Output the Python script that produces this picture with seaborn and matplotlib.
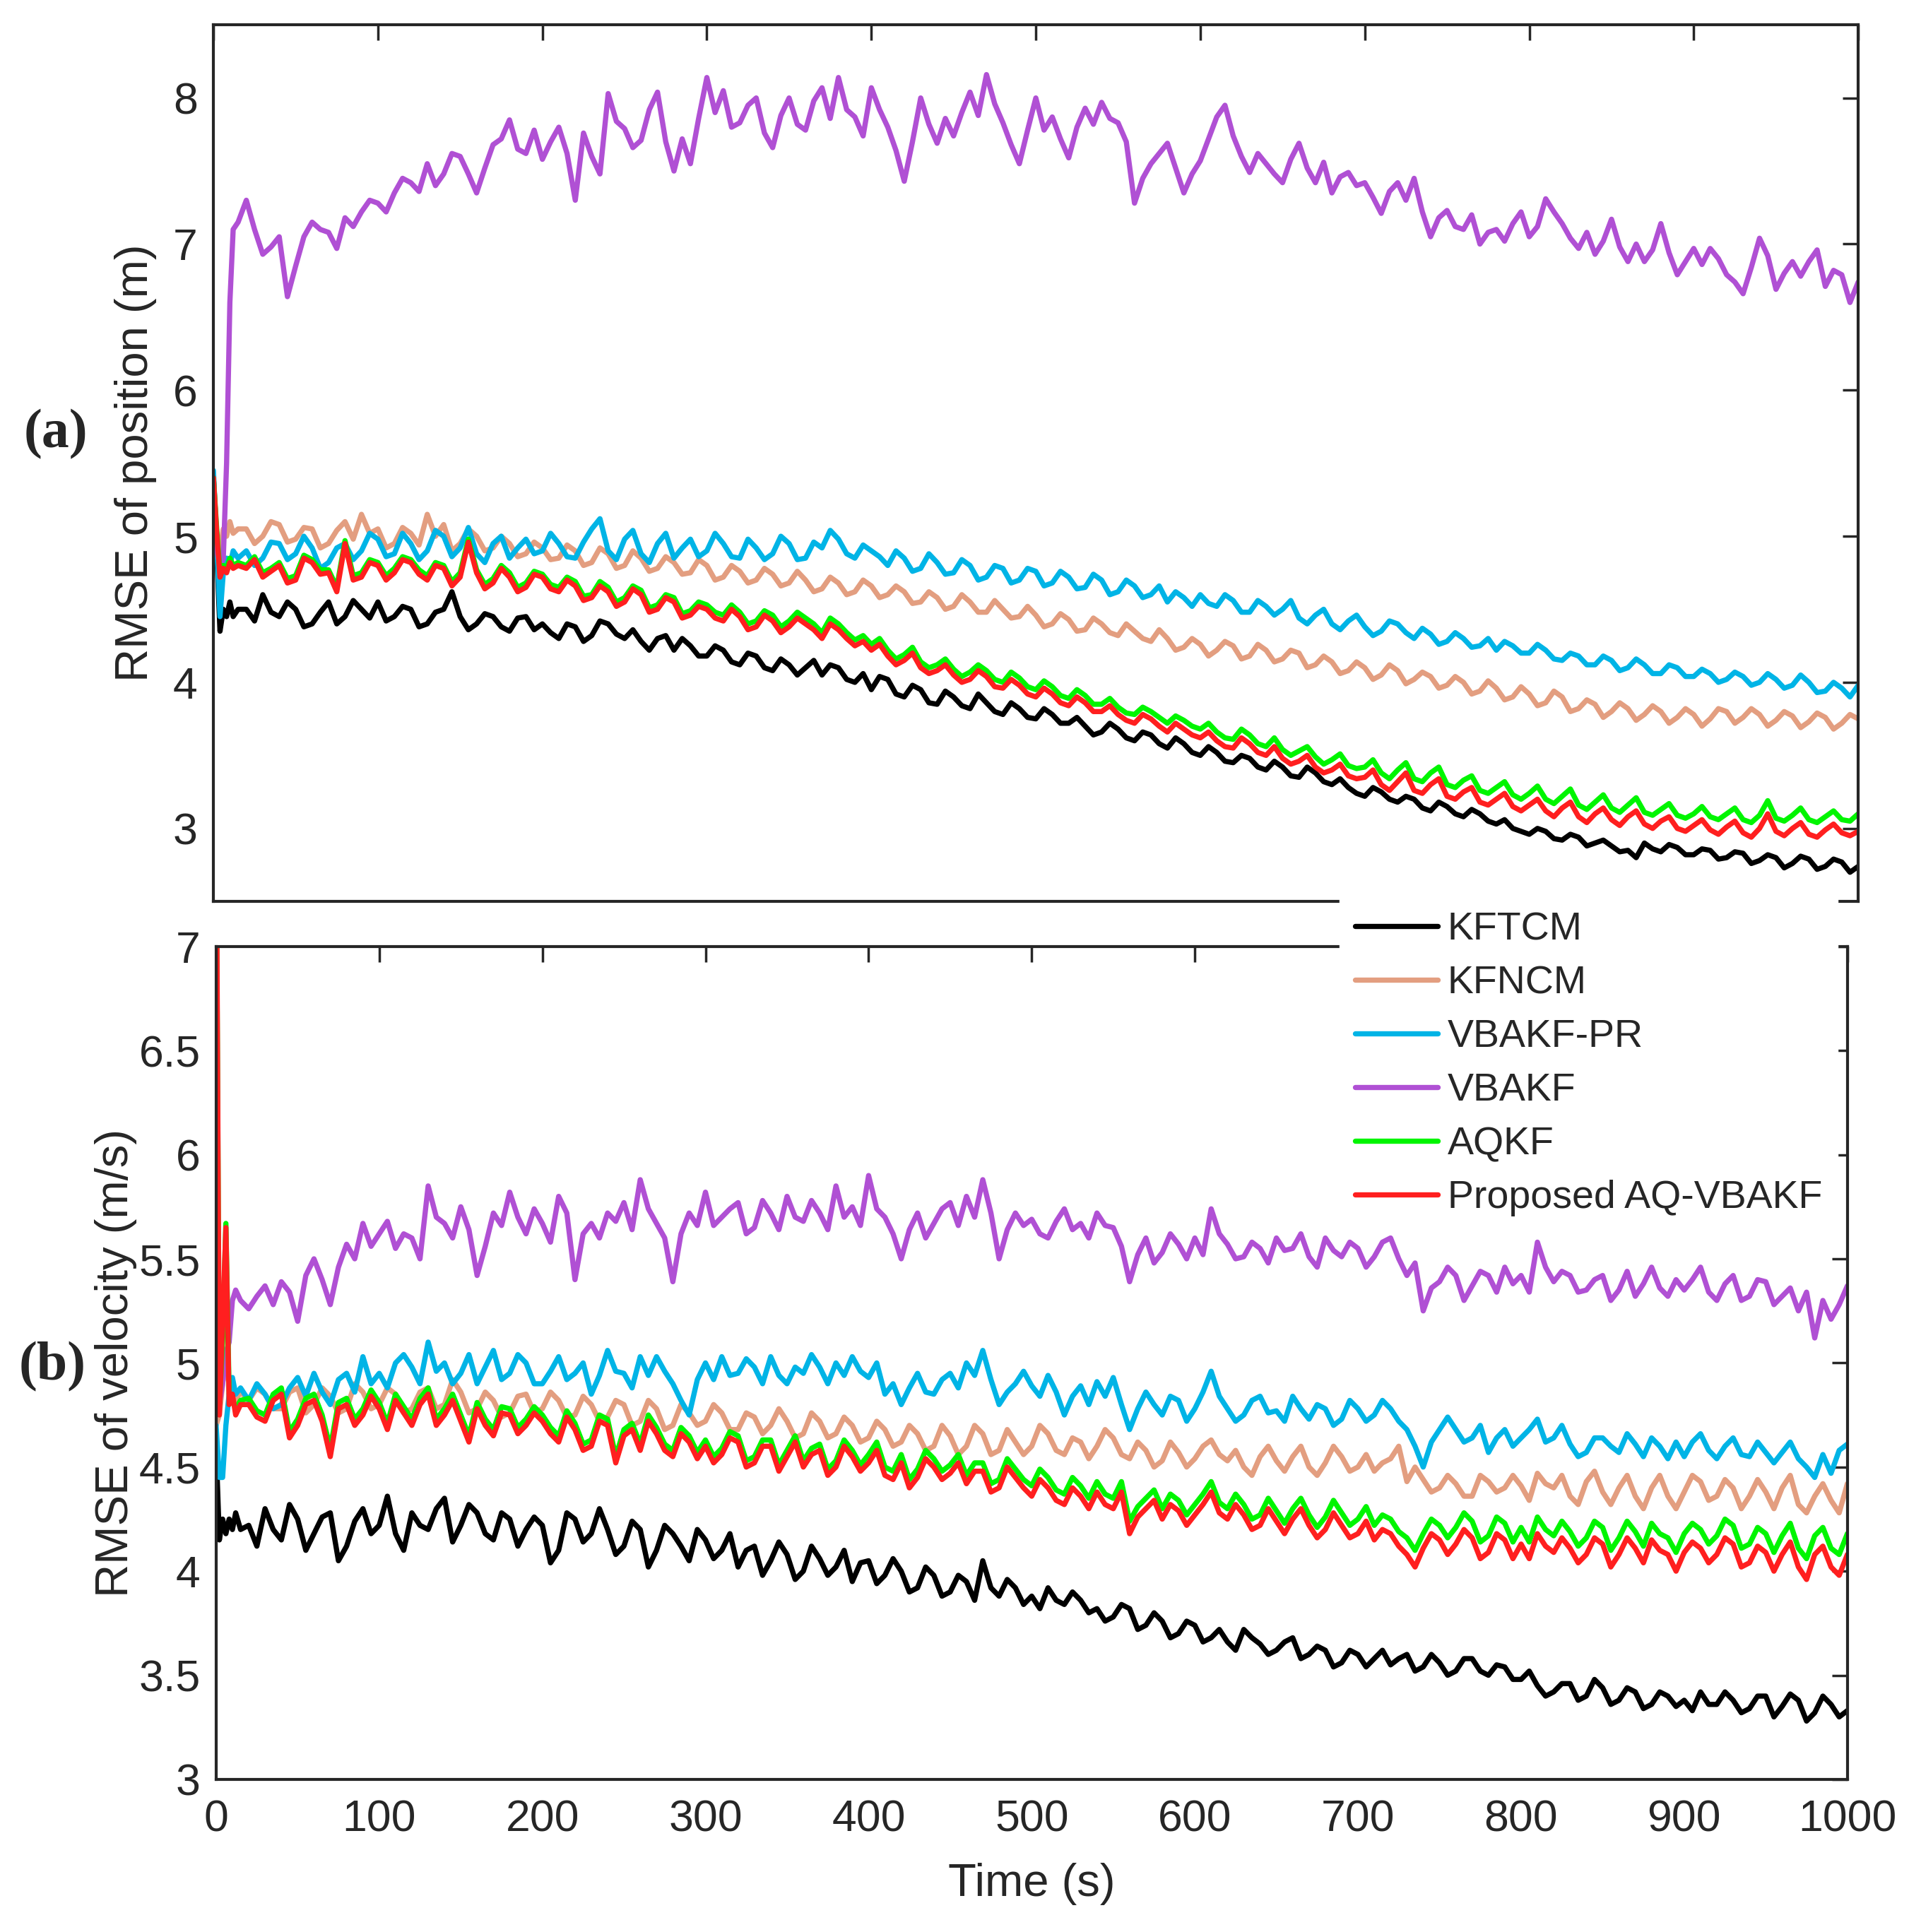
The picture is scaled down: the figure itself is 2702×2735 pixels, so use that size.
import matplotlib
matplotlib.use("Agg")
import matplotlib.pyplot as plt
from matplotlib.lines import Line2D
from matplotlib.ticker import FuncFormatter
import pandas as pd
import seaborn as sns

# ---------------- data ----------------
TIME = [0, 2, 4, 6, 8, 10, 12, 15] + list(range(20, 1001, 5))

METHODS = ["KFTCM", "KFNCM", "VBAKF-PR", "VBAKF", "AQKF", "Proposed AQ-VBAKF"]
COLORS = ["#000000", "#E39E80", "#00B4E6", "#B050D4", "#00F500", "#FF1F1F"]

# (a) RMSE of position (m)
POS_KFTCM = [5.40, 4.90, 4.35, 4.50, 4.45, 4.55, 4.45, 4.50,
    4.50, 4.42, 4.60, 4.48, 4.45, 4.55, 4.50, 4.38, 4.40, 4.48, 4.55, 4.40, 4.45, 4.56, 4.50, 4.44,
    4.55, 4.42, 4.45, 4.52, 4.50, 4.38, 4.40, 4.48, 4.50, 4.62, 4.45, 4.36, 4.40, 4.47, 4.45, 4.38, 4.35, 4.44, 4.45, 4.36,
    4.40, 4.34, 4.30, 4.40, 4.38, 4.28, 4.32, 4.42, 4.40, 4.33, 4.30, 4.36, 4.28, 4.22, 4.30, 4.32, 4.22, 4.30, 4.25, 4.18,
    4.18, 4.25, 4.22, 4.14, 4.12, 4.20, 4.18, 4.10, 4.08, 4.16, 4.12, 4.05, 4.10, 4.15, 4.05, 4.12, 4.10, 4.02, 4.00, 4.06,
    3.95, 4.04, 4.02, 3.92, 3.90, 3.98, 3.95, 3.86, 3.85, 3.94, 3.90, 3.84, 3.82, 3.92, 3.86, 3.80, 3.78, 3.86, 3.82, 3.76,
    3.75, 3.82, 3.78, 3.72, 3.72, 3.76, 3.70, 3.64, 3.66, 3.72, 3.68, 3.62, 3.60, 3.66, 3.64, 3.58, 3.55, 3.62, 3.58, 3.52,
    3.50, 3.56, 3.52, 3.46, 3.45, 3.50, 3.48, 3.42, 3.40, 3.46, 3.42, 3.36, 3.35, 3.42, 3.38, 3.32, 3.30, 3.34, 3.28, 3.24,
    3.22, 3.28, 3.25, 3.20, 3.18, 3.22, 3.20, 3.14, 3.12, 3.18, 3.15, 3.10, 3.08, 3.13, 3.10, 3.05, 3.03, 3.06, 3.00, 2.98,
    2.96, 3.00, 2.98, 2.93, 2.92, 2.96, 2.94, 2.88, 2.90, 2.92, 2.88, 2.84, 2.85, 2.80, 2.90, 2.86, 2.84, 2.89, 2.87, 2.82,
    2.82, 2.86, 2.85, 2.79, 2.80, 2.84, 2.83, 2.76, 2.78, 2.82, 2.80, 2.73, 2.76, 2.81, 2.79, 2.72, 2.74, 2.79, 2.77, 2.70,
    2.74]
POS_KFNCM = [5.40, 5.00, 4.90, 5.05, 5.00, 5.10, 5.02, 5.05,
    5.05, 4.95, 5.00, 5.10, 5.08, 4.96, 4.98, 5.06, 5.05, 4.92, 4.95, 5.04, 5.10, 4.98, 5.15, 5.02,
    5.05, 4.92, 4.95, 5.06, 5.02, 4.94, 5.15, 5.00, 5.08, 4.90, 4.95, 5.05, 5.00, 4.90, 4.92, 5.00, 4.95, 4.86, 4.88, 4.96,
    4.92, 4.84, 4.85, 4.94, 4.90, 4.80, 4.82, 4.92, 4.88, 4.78, 4.80, 4.90, 4.85, 4.76, 4.78, 4.86, 4.82, 4.74, 4.75, 4.84,
    4.80, 4.70, 4.72, 4.80, 4.76, 4.68, 4.70, 4.78, 4.74, 4.66, 4.68, 4.76, 4.70, 4.62, 4.64, 4.72, 4.68, 4.60, 4.62, 4.70,
    4.66, 4.58, 4.60, 4.66, 4.62, 4.54, 4.55, 4.62, 4.58, 4.50, 4.52, 4.60, 4.55, 4.48, 4.48, 4.56, 4.50, 4.44, 4.45, 4.52,
    4.46, 4.38, 4.40, 4.47, 4.43, 4.35, 4.36, 4.44, 4.40, 4.34, 4.32, 4.40, 4.35, 4.30, 4.28, 4.36, 4.30, 4.22, 4.24, 4.30,
    4.26, 4.18, 4.22, 4.28, 4.25, 4.16, 4.18, 4.26, 4.22, 4.14, 4.16, 4.22, 4.20, 4.10, 4.12, 4.18, 4.14, 4.06, 4.08, 4.14,
    4.10, 4.02, 4.05, 4.12, 4.08, 3.99, 4.02, 4.07, 4.04, 3.96, 3.98, 4.04, 4.00, 3.92, 3.94, 4.01, 3.96, 3.88, 3.90, 3.97,
    3.92, 3.84, 3.86, 3.94, 3.90, 3.80, 3.82, 3.88, 3.85, 3.76, 3.80, 3.86, 3.82, 3.74, 3.78, 3.84, 3.80, 3.72, 3.76, 3.82,
    3.78, 3.70, 3.75, 3.82, 3.80, 3.72, 3.76, 3.82, 3.78, 3.70, 3.74, 3.80, 3.77, 3.69, 3.73, 3.79, 3.76, 3.68, 3.72, 3.78,
    3.75]
POS_VBAKF_PR = [5.45, 4.95, 4.45, 4.75, 4.85, 4.80, 4.90, 4.85,
    4.90, 4.80, 4.85, 4.96, 4.95, 4.84, 4.88, 5.00, 4.92, 4.78, 4.82, 4.92, 4.95, 4.84, 4.90, 5.02,
    4.98, 4.86, 4.88, 5.02, 4.95, 4.84, 4.90, 5.04, 5.00, 4.86, 4.92, 5.06, 4.88, 4.82, 4.95, 5.00, 4.85, 4.92, 4.98, 4.88,
    4.90, 5.02, 4.95, 4.86, 4.85, 4.96, 5.05, 5.12, 4.90, 4.84, 4.98, 5.04, 4.88, 4.82, 4.95, 5.02, 4.85, 4.92, 4.98, 4.86,
    4.90, 5.02, 4.95, 4.86, 4.85, 4.98, 4.92, 4.84, 4.88, 5.00, 4.95, 4.84, 4.85, 4.96, 4.92, 5.04, 4.98, 4.88, 4.85, 4.94,
    4.90, 4.86, 4.80, 4.90, 4.85, 4.76, 4.78, 4.88, 4.82, 4.74, 4.75, 4.84, 4.80, 4.70, 4.72, 4.80, 4.78, 4.68, 4.70, 4.78,
    4.76, 4.66, 4.68, 4.76, 4.72, 4.64, 4.65, 4.74, 4.70, 4.60, 4.62, 4.70, 4.66, 4.58, 4.60, 4.66, 4.55, 4.62, 4.58, 4.52,
    4.60, 4.54, 4.52, 4.60, 4.56, 4.48, 4.48, 4.56, 4.52, 4.46, 4.50, 4.56, 4.44, 4.40, 4.46, 4.50, 4.40, 4.36, 4.42, 4.46,
    4.38, 4.32, 4.35, 4.42, 4.40, 4.34, 4.30, 4.37, 4.33, 4.26, 4.28, 4.34, 4.30, 4.24, 4.25, 4.30, 4.22, 4.28, 4.25, 4.20,
    4.20, 4.26, 4.22, 4.16, 4.15, 4.20, 4.18, 4.12, 4.12, 4.18, 4.15, 4.08, 4.10, 4.16, 4.12, 4.06, 4.06, 4.12, 4.10, 4.04,
    4.04, 4.09, 4.06, 4.00, 4.02, 4.07, 4.04, 3.98, 4.00, 4.06, 4.02, 3.96, 3.98, 4.05, 4.00, 3.93, 3.94, 4.00, 3.96, 3.90,
    3.98]
POS_VBAKF = [5.30, 4.90, 4.80, 4.85, 5.50, 6.60, 7.10, 7.15,
    7.30, 7.10, 6.93, 6.98, 7.05, 6.64, 6.85, 7.05, 7.15, 7.10, 7.08, 6.97, 7.18, 7.12, 7.22, 7.30,
    7.28, 7.22, 7.35, 7.45, 7.42, 7.36, 7.55, 7.40, 7.48, 7.62, 7.60, 7.48, 7.35, 7.52, 7.68, 7.72, 7.85, 7.65, 7.62, 7.78,
    7.58, 7.70, 7.80, 7.62, 7.30, 7.76, 7.60, 7.48, 8.03, 7.84, 7.79, 7.66, 7.71, 7.92, 8.04, 7.70, 7.50, 7.72, 7.55, 7.86,
    8.14, 7.90, 8.05, 7.80, 7.83, 7.95, 8.00, 7.76, 7.66, 7.88, 8.00, 7.82, 7.78, 7.98, 8.07, 7.86, 8.14, 7.92, 7.87, 7.74,
    8.07, 7.92, 7.80, 7.64, 7.43, 7.70, 8.00, 7.82, 7.69, 7.86, 7.74, 7.90, 8.04, 7.88, 8.16, 7.96, 7.83, 7.68, 7.55, 7.78,
    8.00, 7.78, 7.87, 7.72, 7.59, 7.80, 7.93, 7.82, 7.97, 7.86, 7.83, 7.70, 7.28, 7.45, 7.55, 7.62, 7.69, 7.52, 7.35, 7.48,
    7.57, 7.72, 7.87, 7.95, 7.74, 7.60, 7.49, 7.62, 7.55, 7.48, 7.42, 7.58, 7.69, 7.52, 7.42, 7.56, 7.35, 7.46, 7.49, 7.40,
    7.42, 7.32, 7.21, 7.36, 7.42, 7.30, 7.45, 7.22, 7.05, 7.18, 7.23, 7.12, 7.10, 7.20, 7.00, 7.08, 7.10, 7.02, 7.14, 7.22,
    7.05, 7.12, 7.31, 7.22, 7.14, 7.04, 6.97, 7.08, 6.93, 7.02, 7.17, 6.98, 6.88, 7.00, 6.88, 6.96, 7.14, 6.94, 6.79, 6.88,
    6.97, 6.86, 6.97, 6.90, 6.79, 6.74, 6.66, 6.84, 7.04, 6.92, 6.69, 6.80, 6.88, 6.78, 6.88, 6.96, 6.71, 6.82, 6.79, 6.60,
    6.74]
POS_AQKF = [5.40, 5.05, 4.75, 4.80, 4.78, 4.85, 4.80, 4.82,
    4.80, 4.86, 4.75, 4.78, 4.82, 4.71, 4.73, 4.87, 4.84, 4.77, 4.77, 4.65, 4.97, 4.73, 4.75, 4.84,
    4.82, 4.73, 4.78, 4.86, 4.84, 4.77, 4.73, 4.82, 4.80, 4.69, 4.75, 4.98, 4.77, 4.67, 4.71, 4.80, 4.75, 4.65, 4.68, 4.76,
    4.74, 4.67, 4.65, 4.72, 4.69, 4.59, 4.60, 4.69, 4.65, 4.55, 4.58, 4.66, 4.63, 4.51, 4.53, 4.60, 4.58, 4.47, 4.49, 4.55,
    4.53, 4.48, 4.46, 4.53, 4.48, 4.40, 4.42, 4.49, 4.46, 4.38, 4.42, 4.48, 4.44, 4.40, 4.34, 4.44, 4.40, 4.34, 4.29, 4.32,
    4.26, 4.30, 4.22, 4.16, 4.19, 4.24, 4.14, 4.10, 4.12, 4.16, 4.09, 4.04, 4.07, 4.12, 4.08, 4.02, 4.00, 4.07, 4.03, 3.97,
    3.95, 4.01, 3.97, 3.91, 3.89, 3.95, 3.91, 3.85, 3.85, 3.89, 3.83, 3.79, 3.78, 3.83, 3.80, 3.76, 3.72, 3.77, 3.74, 3.70,
    3.68, 3.72, 3.66, 3.62, 3.61, 3.68, 3.64, 3.58, 3.56, 3.62, 3.54, 3.50, 3.53, 3.56, 3.49, 3.44, 3.47, 3.51, 3.43, 3.41,
    3.42, 3.47, 3.38, 3.34, 3.40, 3.45, 3.34, 3.32, 3.38, 3.42, 3.30, 3.28, 3.33, 3.36, 3.26, 3.24, 3.28, 3.32, 3.23, 3.20,
    3.24, 3.29, 3.20, 3.17, 3.22, 3.27, 3.16, 3.13, 3.18, 3.23, 3.14, 3.11, 3.16, 3.21, 3.11, 3.09, 3.13, 3.17, 3.09, 3.07,
    3.10, 3.15, 3.08, 3.06, 3.10, 3.14, 3.06, 3.04, 3.09, 3.19, 3.07, 3.05, 3.09, 3.14, 3.06, 3.04, 3.08, 3.12, 3.06, 3.05,
    3.10]
POS_PROPOSED = [5.40, 5.02, 4.72, 4.78, 4.75, 4.82, 4.78, 4.80,
    4.78, 4.84, 4.72, 4.76, 4.80, 4.68, 4.70, 4.85, 4.82, 4.74, 4.75, 4.62, 4.95, 4.70, 4.72, 4.82,
    4.80, 4.70, 4.75, 4.84, 4.82, 4.74, 4.70, 4.80, 4.78, 4.66, 4.72, 4.96, 4.75, 4.64, 4.68, 4.78, 4.72, 4.62, 4.65, 4.74,
    4.72, 4.64, 4.62, 4.70, 4.66, 4.56, 4.58, 4.66, 4.62, 4.52, 4.55, 4.64, 4.60, 4.48, 4.50, 4.58, 4.55, 4.44, 4.46, 4.52,
    4.50, 4.44, 4.42, 4.50, 4.45, 4.36, 4.38, 4.46, 4.42, 4.34, 4.38, 4.44, 4.40, 4.36, 4.30, 4.40, 4.36, 4.30, 4.25, 4.28,
    4.22, 4.26, 4.18, 4.12, 4.15, 4.20, 4.10, 4.06, 4.08, 4.12, 4.05, 4.00, 4.02, 4.08, 4.04, 3.97, 3.96, 4.02, 3.98, 3.92,
    3.90, 3.96, 3.92, 3.86, 3.84, 3.90, 3.86, 3.80, 3.80, 3.84, 3.78, 3.74, 3.72, 3.78, 3.75, 3.70, 3.66, 3.72, 3.68, 3.64,
    3.62, 3.66, 3.60, 3.56, 3.55, 3.62, 3.58, 3.52, 3.50, 3.56, 3.48, 3.44, 3.46, 3.50, 3.42, 3.38, 3.40, 3.44, 3.36, 3.34,
    3.35, 3.40, 3.30, 3.26, 3.32, 3.38, 3.26, 3.24, 3.30, 3.34, 3.22, 3.20, 3.25, 3.28, 3.18, 3.16, 3.20, 3.24, 3.15, 3.12,
    3.16, 3.20, 3.12, 3.08, 3.14, 3.18, 3.08, 3.04, 3.10, 3.14, 3.06, 3.02, 3.08, 3.12, 3.03, 3.00, 3.05, 3.08, 3.00, 2.98,
    3.02, 3.06, 2.99, 2.96, 3.01, 3.05, 2.97, 2.94, 3.00, 3.10, 2.98, 2.95, 3.00, 3.04, 2.96, 2.94, 2.99, 3.03, 2.97, 2.95,
    2.98]

# (b) RMSE of velocity (m/s)
VEL_KFTCM = [4.60, 4.15, 4.25, 4.18, 4.25, 4.20, 4.28, 4.20,
    4.22, 4.12, 4.30, 4.20, 4.15, 4.32, 4.25, 4.10, 4.18, 4.26, 4.28, 4.05, 4.12, 4.24, 4.30, 4.18,
    4.22, 4.36, 4.18, 4.10, 4.28, 4.22, 4.20, 4.30, 4.35, 4.14, 4.22, 4.32, 4.28, 4.18, 4.15, 4.28, 4.25, 4.12, 4.20, 4.26,
    4.22, 4.04, 4.10, 4.28, 4.25, 4.14, 4.18, 4.30, 4.20, 4.08, 4.12, 4.24, 4.20, 4.02, 4.10, 4.22, 4.18, 4.12, 4.05, 4.20,
    4.15, 4.06, 4.10, 4.18, 4.02, 4.10, 4.12, 3.98, 4.05, 4.14, 4.08, 3.96, 4.00, 4.12, 4.06, 3.98, 4.02, 4.10, 3.95, 4.04,
    4.05, 3.94, 3.98, 4.06, 4.00, 3.90, 3.92, 4.02, 3.98, 3.88, 3.90, 3.98, 3.95, 3.86, 4.05, 3.92, 3.88, 3.96, 3.92, 3.84,
    3.88, 3.82, 3.92, 3.86, 3.84, 3.90, 3.86, 3.80, 3.82, 3.76, 3.78, 3.84, 3.82, 3.72, 3.74, 3.80, 3.76, 3.68, 3.70, 3.76,
    3.74, 3.66, 3.68, 3.72, 3.66, 3.62, 3.72, 3.68, 3.65, 3.60, 3.62, 3.66, 3.68, 3.58, 3.60, 3.64, 3.62, 3.54, 3.56, 3.62,
    3.60, 3.54, 3.58, 3.62, 3.55, 3.58, 3.60, 3.52, 3.54, 3.60, 3.56, 3.50, 3.52, 3.58, 3.58, 3.52, 3.50, 3.55, 3.54, 3.48,
    3.48, 3.52, 3.45, 3.40, 3.42, 3.46, 3.46, 3.38, 3.40, 3.48, 3.44, 3.36, 3.38, 3.44, 3.42, 3.34, 3.36, 3.42, 3.40, 3.35,
    3.38, 3.33, 3.42, 3.36, 3.36, 3.42, 3.38, 3.32, 3.34, 3.40, 3.40, 3.30, 3.35, 3.41, 3.38, 3.28, 3.32, 3.40, 3.36, 3.30,
    3.33]
VEL_KFNCM = [4.70, 4.75, 4.90, 5.00, 4.90, 4.85, 4.82, 4.86,
    4.82, 4.88, 4.85, 4.78, 4.78, 4.86, 4.88, 4.76, 4.80, 4.88, 4.84, 4.76, 4.78, 4.90, 4.86, 4.78,
    4.80, 4.88, 4.85, 4.76, 4.78, 4.86, 4.88, 4.78, 4.80, 4.92, 4.86, 4.76, 4.78, 4.86, 4.82, 4.74, 4.76, 4.84, 4.85, 4.76,
    4.78, 4.86, 4.82, 4.74, 4.75, 4.84, 4.80, 4.72, 4.74, 4.82, 4.80, 4.70, 4.72, 4.82, 4.78, 4.68, 4.70, 4.80, 4.76, 4.70,
    4.72, 4.80, 4.76, 4.68, 4.68, 4.76, 4.74, 4.66, 4.70, 4.78, 4.72, 4.64, 4.66, 4.76, 4.72, 4.64, 4.66, 4.74, 4.70, 4.62,
    4.64, 4.72, 4.68, 4.60, 4.62, 4.70, 4.66, 4.58, 4.60, 4.70, 4.65, 4.56, 4.60, 4.70, 4.66, 4.56, 4.58, 4.68, 4.62, 4.56,
    4.60, 4.70, 4.66, 4.58, 4.56, 4.64, 4.62, 4.54, 4.60, 4.68, 4.64, 4.56, 4.54, 4.62, 4.58, 4.50, 4.53, 4.62, 4.57, 4.50,
    4.54, 4.60, 4.63, 4.56, 4.53, 4.58, 4.50, 4.46, 4.55, 4.60, 4.53, 4.48, 4.55, 4.60, 4.50, 4.46, 4.52, 4.60, 4.55, 4.48,
    4.50, 4.56, 4.48, 4.52, 4.54, 4.60, 4.43, 4.50, 4.44, 4.38, 4.40, 4.46, 4.42, 4.36, 4.36, 4.46, 4.43, 4.38, 4.40, 4.46,
    4.41, 4.34, 4.47, 4.42, 4.40, 4.46, 4.36, 4.32, 4.43, 4.48, 4.38, 4.32, 4.40, 4.46, 4.36, 4.30, 4.40, 4.46, 4.36, 4.30,
    4.38, 4.46, 4.43, 4.34, 4.36, 4.44, 4.40, 4.30, 4.36, 4.44, 4.38, 4.30, 4.40, 4.46, 4.32, 4.28, 4.36, 4.42, 4.34, 4.28,
    4.42]
VEL_VBAKF_PR = [4.70, 4.45, 4.45, 4.70, 4.85, 4.93, 4.85, 4.88,
    4.82, 4.90, 4.85, 4.78, 4.80, 4.88, 4.93, 4.84, 4.95, 4.86, 4.80, 4.92, 4.95, 4.86, 5.03, 4.90,
    4.95, 4.88, 5.00, 5.04, 4.98, 4.90, 5.10, 4.96, 5.00, 4.90, 4.95, 5.04, 4.90, 4.98, 5.06, 4.92, 4.95, 5.04, 5.00, 4.90,
    4.90, 4.96, 5.03, 4.92, 4.95, 5.00, 4.85, 4.94, 5.06, 4.96, 4.95, 4.88, 5.03, 4.94, 5.03, 4.96, 4.90, 4.82, 4.75, 4.92,
    5.00, 4.92, 5.03, 4.94, 4.95, 5.02, 4.98, 4.90, 5.03, 4.94, 4.90, 4.98, 4.95, 5.04, 4.98, 4.90, 5.00, 4.94, 5.03, 4.96,
    4.93, 5.00, 4.85, 4.90, 4.80, 4.88, 4.95, 4.86, 4.85, 4.92, 4.95, 4.88, 5.00, 4.94, 5.06, 4.92, 4.80, 4.86, 4.90, 4.96,
    4.89, 4.84, 4.94, 4.86, 4.75, 4.84, 4.89, 4.80, 4.91, 4.84, 4.93, 4.80, 4.68, 4.78, 4.86, 4.80, 4.75, 4.84, 4.82, 4.72,
    4.78, 4.86, 4.96, 4.84, 4.78, 4.72, 4.75, 4.82, 4.84, 4.76, 4.77, 4.72, 4.84, 4.78, 4.73, 4.80, 4.78, 4.70, 4.73, 4.82,
    4.78, 4.72, 4.75, 4.82, 4.78, 4.72, 4.68, 4.60, 4.50, 4.62, 4.68, 4.74, 4.68, 4.62, 4.64, 4.70, 4.57, 4.64, 4.68, 4.60,
    4.64, 4.68, 4.73, 4.62, 4.64, 4.70, 4.61, 4.55, 4.57, 4.64, 4.64, 4.60, 4.57, 4.66, 4.61, 4.55, 4.64, 4.60, 4.54, 4.62,
    4.55, 4.62, 4.66, 4.58, 4.54, 4.60, 4.64, 4.56, 4.55, 4.62, 4.57, 4.52, 4.57, 4.62, 4.54, 4.50, 4.45, 4.56, 4.47, 4.58,
    4.61]
VEL_VBAKF = [4.75, 4.80, 4.90, 5.05, 5.10, 5.30, 5.35, 5.30,
    5.26, 5.32, 5.37, 5.28, 5.39, 5.34, 5.20, 5.42, 5.50, 5.40, 5.28, 5.46, 5.57, 5.50, 5.67, 5.56,
    5.62, 5.68, 5.55, 5.62, 5.60, 5.50, 5.85, 5.70, 5.67, 5.60, 5.75, 5.64, 5.42, 5.56, 5.72, 5.66, 5.82, 5.70, 5.62, 5.74,
    5.67, 5.58, 5.80, 5.72, 5.40, 5.62, 5.67, 5.60, 5.72, 5.68, 5.77, 5.64, 5.88, 5.74, 5.67, 5.60, 5.39, 5.62, 5.72, 5.66,
    5.82, 5.66, 5.70, 5.74, 5.77, 5.62, 5.65, 5.78, 5.72, 5.64, 5.80, 5.70, 5.68, 5.78, 5.72, 5.64, 5.85, 5.70, 5.75, 5.66,
    5.90, 5.74, 5.70, 5.62, 5.50, 5.64, 5.72, 5.60, 5.67, 5.74, 5.77, 5.66, 5.80, 5.70, 5.88, 5.72, 5.50, 5.64, 5.72, 5.66,
    5.69, 5.62, 5.60, 5.68, 5.74, 5.64, 5.67, 5.60, 5.72, 5.66, 5.65, 5.56, 5.39, 5.52, 5.60, 5.48, 5.53, 5.62, 5.57, 5.50,
    5.60, 5.52, 5.74, 5.62, 5.57, 5.50, 5.51, 5.58, 5.55, 5.48, 5.60, 5.54, 5.55, 5.62, 5.51, 5.46, 5.60, 5.54, 5.51, 5.58,
    5.55, 5.46, 5.51, 5.58, 5.60, 5.50, 5.42, 5.48, 5.25, 5.36, 5.39, 5.46, 5.42, 5.30, 5.37, 5.44, 5.42, 5.34, 5.46, 5.38,
    5.42, 5.34, 5.58, 5.46, 5.39, 5.44, 5.42, 5.34, 5.35, 5.40, 5.42, 5.30, 5.35, 5.44, 5.32, 5.38, 5.46, 5.36, 5.32, 5.40,
    5.35, 5.40, 5.46, 5.34, 5.30, 5.38, 5.42, 5.30, 5.32, 5.40, 5.39, 5.28, 5.32, 5.36, 5.25, 5.34, 5.12, 5.30, 5.21, 5.28,
    5.37]
VEL_AQKF = [7.60, 4.80, 5.10, 5.67, 4.85, 4.82, 4.78, 4.82,
    4.83, 4.77, 4.75, 4.85, 4.88, 4.67, 4.73, 4.83, 4.85, 4.75, 4.59, 4.81, 4.83, 4.73, 4.78, 4.87,
    4.81, 4.71, 4.85, 4.79, 4.73, 4.83, 4.88, 4.73, 4.78, 4.85, 4.75, 4.65, 4.81, 4.73, 4.68, 4.79, 4.78, 4.69, 4.73, 4.79,
    4.75, 4.69, 4.65, 4.77, 4.71, 4.61, 4.63, 4.75, 4.73, 4.55, 4.68, 4.71, 4.61, 4.75, 4.69, 4.61, 4.58, 4.69, 4.65, 4.57,
    4.63, 4.55, 4.59, 4.67, 4.65, 4.53, 4.55, 4.63, 4.63, 4.51, 4.58, 4.65, 4.53, 4.59, 4.61, 4.49, 4.53, 4.63, 4.58, 4.51,
    4.56, 4.62, 4.50, 4.48, 4.56, 4.44, 4.49, 4.58, 4.54, 4.48, 4.51, 4.56, 4.46, 4.52, 4.52, 4.42, 4.44, 4.54, 4.49, 4.44,
    4.41, 4.49, 4.45, 4.39, 4.37, 4.45, 4.41, 4.35, 4.43, 4.37, 4.35, 4.43, 4.24, 4.31, 4.35, 4.39, 4.30, 4.37, 4.34, 4.27,
    4.32, 4.37, 4.43, 4.33, 4.30, 4.37, 4.32, 4.25, 4.27, 4.35, 4.29, 4.23, 4.30, 4.35, 4.27, 4.21, 4.26, 4.34, 4.28, 4.22,
    4.25, 4.31, 4.22, 4.27, 4.25, 4.19, 4.16, 4.10, 4.18, 4.25, 4.22, 4.16, 4.21, 4.28, 4.24, 4.14, 4.17, 4.26, 4.23, 4.14,
    4.21, 4.14, 4.26, 4.20, 4.17, 4.24, 4.19, 4.12, 4.16, 4.24, 4.21, 4.10, 4.16, 4.24, 4.19, 4.12, 4.23, 4.18, 4.16, 4.09,
    4.18, 4.23, 4.20, 4.13, 4.17, 4.25, 4.22, 4.11, 4.13, 4.21, 4.18, 4.09, 4.17, 4.23, 4.11, 4.06, 4.17, 4.21, 4.11, 4.08,
    4.18]
VEL_PROPOSED = [7.80, 4.75, 5.20, 5.65, 4.80, 4.85, 4.75, 4.80,
    4.80, 4.74, 4.72, 4.82, 4.85, 4.64, 4.70, 4.80, 4.82, 4.72, 4.55, 4.78, 4.80, 4.70, 4.75, 4.84,
    4.78, 4.68, 4.82, 4.76, 4.70, 4.80, 4.85, 4.70, 4.75, 4.82, 4.72, 4.62, 4.78, 4.70, 4.65, 4.76, 4.75, 4.66, 4.70, 4.76,
    4.72, 4.66, 4.62, 4.74, 4.68, 4.58, 4.60, 4.72, 4.70, 4.52, 4.65, 4.68, 4.58, 4.72, 4.66, 4.58, 4.55, 4.66, 4.62, 4.54,
    4.60, 4.52, 4.56, 4.64, 4.62, 4.50, 4.52, 4.60, 4.60, 4.48, 4.55, 4.62, 4.50, 4.56, 4.58, 4.46, 4.50, 4.60, 4.55, 4.48,
    4.52, 4.58, 4.46, 4.44, 4.52, 4.40, 4.45, 4.54, 4.50, 4.44, 4.47, 4.52, 4.42, 4.48, 4.48, 4.38, 4.40, 4.50, 4.45, 4.40,
    4.36, 4.44, 4.40, 4.34, 4.32, 4.40, 4.36, 4.30, 4.38, 4.32, 4.30, 4.38, 4.18, 4.26, 4.30, 4.34, 4.25, 4.32, 4.29, 4.22,
    4.27, 4.32, 4.38, 4.28, 4.25, 4.32, 4.27, 4.20, 4.22, 4.30, 4.24, 4.18, 4.25, 4.30, 4.22, 4.16, 4.20, 4.28, 4.22, 4.16,
    4.18, 4.24, 4.15, 4.20, 4.18, 4.12, 4.08, 4.02, 4.11, 4.18, 4.15, 4.08, 4.13, 4.20, 4.16, 4.06, 4.09, 4.18, 4.15, 4.06,
    4.13, 4.06, 4.18, 4.12, 4.09, 4.16, 4.11, 4.04, 4.08, 4.16, 4.13, 4.02, 4.08, 4.16, 4.11, 4.04, 4.15, 4.10, 4.08, 4.00,
    4.09, 4.14, 4.11, 4.04, 4.08, 4.16, 4.13, 4.02, 4.04, 4.12, 4.09, 4.00, 4.08, 4.14, 4.02, 3.96, 4.08, 4.12, 4.02, 3.98,
    4.08]

POSITION = [POS_KFTCM, POS_KFNCM, POS_VBAKF_PR, POS_VBAKF, POS_AQKF, POS_PROPOSED]
VELOCITY = [VEL_KFTCM, VEL_KFNCM, VEL_VBAKF_PR, VEL_VBAKF, VEL_AQKF, VEL_PROPOSED]

X_TICKS = list(range(0, 1001, 100))
POS_TICKS = [3, 4, 5, 6, 7, 8]
VEL_TICKS = [3, 3.5, 4, 4.5, 5, 5.5, 6, 6.5, 7]

for group in (POSITION, VELOCITY):
    for name, vals in zip(METHODS, group):
        if len(vals) != len(TIME):
            raise ValueError(f"{name}: {len(vals)} values vs {len(TIME)} times")


def long_frame(series_list):
    frames = []
    for name, vals in zip(METHODS, series_list):
        frames.append(pd.DataFrame({"Time": TIME, "RMSE": vals, "Method": name}))
    return pd.concat(frames, ignore_index=True)


# ---------------- style ----------------
sns.set_style("white")
plt.rcParams["font.family"] = ["Liberation Sans", "DejaVu Sans"]
AX_COLOR = "#262626"
LW = 5.3

fig = plt.figure(figsize=(27.02, 27.35), dpi=100)
ax1 = fig.add_axes([0.1118, 0.5334, 0.8616, 0.4537])
ax2 = fig.add_axes([0.1132, 0.0790, 0.8545, 0.4311])

palette = dict(zip(METHODS, COLORS))

for ax, series in [(ax1, POSITION), (ax2, VELOCITY)]:
    df = long_frame(series)
    sns.lineplot(data=df, x="Time", y="RMSE", hue="Method", hue_order=METHODS,
                 palette=palette, linewidth=LW, estimator=None, sort=False,
                 legend=False, ax=ax)
    ax.set_xlim(0, 1000)
    ax.set_xticks(X_TICKS)
    for sp in ax.spines.values():
        sp.set_linewidth(3.0)
        sp.set_color(AX_COLOR)
        sp.set_visible(True)
    ax.tick_params(axis="both", which="major", direction="in", length=16,
                   width=2.5, top=True, right=True, labelsize=45,
                   colors=AX_COLOR)
    ax.tick_params(axis="y", pad=16)
    ax.tick_params(axis="x", pad=20)

ax1.set_ylim(2.5, 8.5)
ax1.set_yticks(POS_TICKS)
ax1.tick_params(axis="x", labelbottom=False)
ax1.set_xlabel("")
ax1.set_ylabel("RMSE of position (m)", fontsize=47, color=AX_COLOR, va="center")
ax1.yaxis.set_label_coords(-0.0473, 0.5)

ax2.set_ylim(3, 7)
ax2.set_yticks(VEL_TICKS)
ax2.yaxis.set_major_formatter(FuncFormatter(lambda v, p: f"{v:g}"))
ax2.set_ylabel("RMSE of velocity (m/s)", fontsize=47, color=AX_COLOR, va="center")
ax2.yaxis.set_label_coords(-0.0615, 0.5)
ax2.set_xlabel("Time (s)", fontsize=47, color=AX_COLOR, va="center")
ax2.xaxis.set_label_coords(0.5, -0.1255)

# panel tags
fig.text(79 / 2702, 1 - 615 / 2735, "(a)", fontsize=56, fontweight="bold",
         family=["Liberation Serif", "DejaVu Serif"], ha="center", va="center")
fig.text(74 / 2702, 1 - 1935 / 2735, "(b)", fontsize=56, fontweight="bold",
         family=["Liberation Serif", "DejaVu Serif"], ha="center", va="center")

# legend (figure level, drawn above both axes)
handles = [Line2D([0], [0], color=c, lw=LW) for c in COLORS]
leg = fig.legend(handles, METHODS, loc="upper left",
                 bbox_to_anchor=(0.7017, 0.5362), bbox_transform=fig.transFigure,
                 frameon=True, fancybox=False, framealpha=1, facecolor="white",
                 edgecolor="white", fontsize=40, handlelength=2.1,
                 handletextpad=0.25, labelspacing=0.43, borderpad=0.4,
                 borderaxespad=0)
leg.set_zorder(10)

fig.savefig("out.png", dpi=100, facecolor="white")
